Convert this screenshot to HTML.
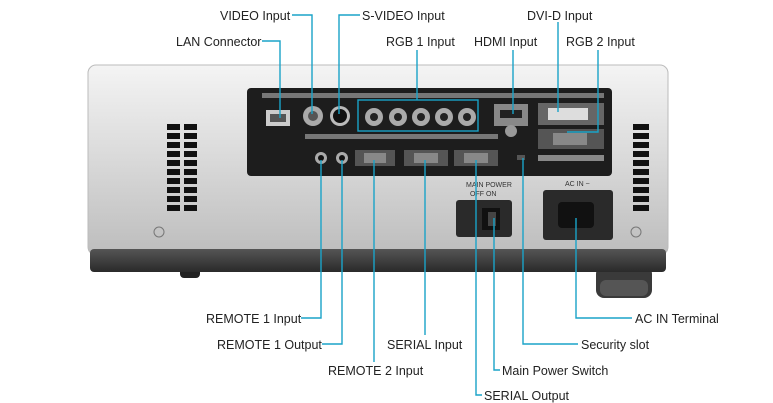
<!DOCTYPE html>
<html><head><meta charset="utf-8"><style>
html,body{margin:0;padding:0;background:#fff;width:773px;height:403px;overflow:hidden}
text{font-family:"Liberation Sans",Arial,sans-serif;font-size:12.5px;fill:#222}
</style></head><body>
<svg width="773" height="403" viewBox="0 0 773 403" xmlns="http://www.w3.org/2000/svg">
<defs>
<linearGradient id="sil" x1="0" y1="0" x2="0" y2="1">
<stop offset="0" stop-color="#f4f4f4"/><stop offset="0.5" stop-color="#d9d9d9"/><stop offset="1" stop-color="#bdbdbd"/></linearGradient>
<linearGradient id="band" x1="0" y1="0" x2="0" y2="1">
<stop offset="0" stop-color="#555"/><stop offset="1" stop-color="#2a2a2a"/></linearGradient>
</defs>
<rect x="180" y="266" width="20" height="12" rx="4" fill="#222"/>
<rect x="596" y="266" width="56" height="32" rx="8" fill="#3a3a3a"/>
<rect x="600" y="280" width="48" height="16" rx="6" fill="#555"/>
<rect x="88" y="65" width="580" height="190" rx="8" fill="url(#sil)" stroke="#bbb"/>
<rect x="90" y="249" width="576" height="23" rx="4" fill="url(#band)"/>
<g fill="#111">
<rect x="167" y="124" width="13" height="6"/><rect x="184" y="124" width="13" height="6"/>
<rect x="167" y="133" width="13" height="6"/><rect x="184" y="133" width="13" height="6"/>
<rect x="167" y="142" width="13" height="6"/><rect x="184" y="142" width="13" height="6"/>
<rect x="167" y="151" width="13" height="6"/><rect x="184" y="151" width="13" height="6"/>
<rect x="167" y="160" width="13" height="6"/><rect x="184" y="160" width="13" height="6"/>
<rect x="167" y="169" width="13" height="6"/><rect x="184" y="169" width="13" height="6"/>
<rect x="167" y="178" width="13" height="6"/><rect x="184" y="178" width="13" height="6"/>
<rect x="167" y="187" width="13" height="6"/><rect x="184" y="187" width="13" height="6"/>
<rect x="167" y="196" width="13" height="6"/><rect x="184" y="196" width="13" height="6"/>
<rect x="167" y="205" width="13" height="6"/><rect x="184" y="205" width="13" height="6"/>
<rect x="633" y="124" width="16" height="6"/><rect x="633" y="133" width="16" height="6"/>
<rect x="633" y="142" width="16" height="6"/><rect x="633" y="151" width="16" height="6"/>
<rect x="633" y="160" width="16" height="6"/><rect x="633" y="169" width="16" height="6"/>
<rect x="633" y="178" width="16" height="6"/><rect x="633" y="187" width="16" height="6"/>
<rect x="633" y="196" width="16" height="6"/><rect x="633" y="205" width="16" height="6"/>
</g>
<circle cx="159" cy="232" r="5" fill="none" stroke="#777"/>
<circle cx="636" cy="232" r="5" fill="none" stroke="#777"/>
<rect x="247" y="88" width="365" height="88" rx="4" fill="#1d1d1d"/>
<rect x="262" y="93" width="342" height="5" fill="#777"/>
<rect x="305" y="134" width="193" height="5" fill="#777"/>
<rect x="266" y="110" width="24" height="16" fill="#ccc"/><rect x="270" y="114" width="16" height="8" fill="#555"/>
<circle cx="313" cy="116" r="10" fill="#aaa"/><circle cx="313" cy="116" r="5" fill="#555"/>
<circle cx="340" cy="116" r="10" fill="#bbb"/><circle cx="340" cy="116" r="7" fill="#111"/>
<rect x="358" y="100" width="120" height="31" fill="none" stroke="#1aa3c8" stroke-width="1.4"/>
<g fill="#aaa"><circle cx="374" cy="117" r="9"/><circle cx="398" cy="117" r="9"/><circle cx="421" cy="117" r="9"/><circle cx="444" cy="117" r="9"/><circle cx="467" cy="117" r="9"/></g>
<g fill="#222"><circle cx="374" cy="117" r="4"/><circle cx="398" cy="117" r="4"/><circle cx="421" cy="117" r="4"/><circle cx="444" cy="117" r="4"/><circle cx="467" cy="117" r="4"/></g>
<rect x="494" y="104" width="34" height="22" fill="#888"/><rect x="500" y="110" width="22" height="8" fill="#222"/>
<circle cx="511" cy="131" r="6" fill="#999"/>
<rect x="538" y="103" width="66" height="22" fill="#666"/><rect x="548" y="108" width="40" height="12" fill="#ddd"/>
<rect x="538" y="129" width="66" height="20" fill="#555"/><rect x="553" y="133" width="34" height="12" fill="#888"/>
<rect x="538" y="155" width="66" height="6" fill="#888"/>
<circle cx="321" cy="158" r="6" fill="#aaa"/><circle cx="321" cy="158" r="3" fill="#111"/>
<circle cx="342" cy="158" r="6" fill="#aaa"/><circle cx="342" cy="158" r="3" fill="#111"/>
<rect x="355" y="150" width="40" height="16" fill="#555"/><rect x="364" y="153" width="22" height="10" fill="#888"/>
<rect x="404" y="150" width="44" height="16" fill="#555"/><rect x="414" y="153" width="24" height="10" fill="#888"/>
<rect x="454" y="150" width="44" height="16" fill="#555"/><rect x="464" y="153" width="24" height="10" fill="#888"/>
<rect x="517" y="155" width="8" height="5" fill="#555"/>
<text x="466" y="187" style="font-size:7px;fill:#333">MAIN POWER</text>
<text x="470" y="196" style="font-size:7px;fill:#333">OFF   ON</text>
<rect x="456" y="200" width="56" height="37" rx="3" fill="#2a2a2a"/>
<rect x="482" y="208" width="18" height="22" fill="#111"/><rect x="488" y="212" width="8" height="14" fill="#444"/>
<text x="565" y="186" style="font-size:7px;fill:#333">AC IN ~</text>
<rect x="543" y="190" width="70" height="50" rx="3" fill="#2a2a2a"/>
<rect x="558" y="202" width="36" height="26" rx="4" fill="#111"/>
<g fill="none" stroke="#1aa3c8" stroke-width="1.4">
<polyline points="292,15 312,15 312,114"/>
<polyline points="360,15 339,15 339,114"/>
<polyline points="262,41 280,41 280,118"/>
<line x1="417" y1="50" x2="417" y2="100"/>
<line x1="513" y1="50" x2="513" y2="114"/>
<line x1="558" y1="22" x2="558" y2="112"/>
<polyline points="598,50 598,132 567,132"/>
<polyline points="301,318 321,318 321,160"/>
<polyline points="322,344 342,344 342,160"/>
<line x1="374" y1="362" x2="374" y2="160"/>
<line x1="425" y1="335" x2="425" y2="160"/>
<polyline points="482,395 476,395 476,160"/>
<polyline points="500,370 494,370 494,218"/>
<polyline points="578,344 523,344 523,158"/>
<polyline points="632,318 576,318 576,218"/>
</g>
<text x="220" y="20">VIDEO Input</text>
<text x="362" y="20">S-VIDEO Input</text>
<text x="527" y="20">DVI-D Input</text>
<text x="176" y="46">LAN Connector</text>
<text x="386" y="46">RGB 1 Input</text>
<text x="474" y="46">HDMI Input</text>
<text x="566" y="46">RGB 2 Input</text>
<text x="206" y="323">REMOTE 1 Input</text>
<text x="635" y="323">AC IN Terminal</text>
<text x="217" y="349">REMOTE 1 Output</text>
<text x="387" y="349">SERIAL Input</text>
<text x="581" y="349">Security slot</text>
<text x="328" y="375">REMOTE 2 Input</text>
<text x="502" y="375">Main Power Switch</text>
<text x="484" y="400">SERIAL Output</text>
</svg>
</body></html>
